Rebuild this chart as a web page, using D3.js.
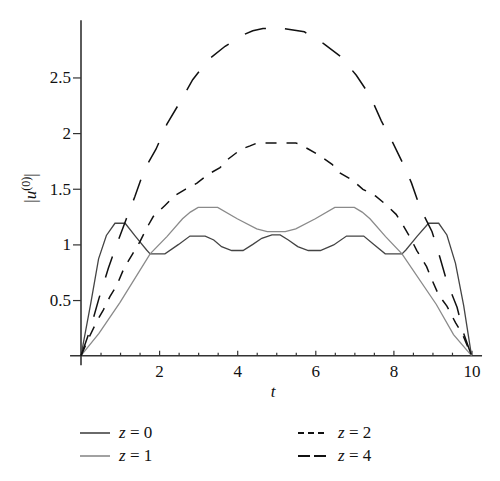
<!doctype html>
<html>
    <head>
        <style>
            body { margin: 0; overflow: hidden; background: #fff; }
        </style>
    </head>
    <body>
        <script src="https://cdn.jsdelivr.net/npm/d3@7"></script>
        <script>
            // values
            const t0 = [0, 0.25, 0.45, 0.65, 0.87, 1.13, 1.4, 1.68, 1.77, 2.15, 2.5, 2.79, 3.18, 3.4, 3.6, 3.86, 4.15, 4.4, 4.63, 4.89, 5.1, 5.31, 5.55, 5.82, 6.13, 6.47, 6.8, 7.0, 7.24, 7.5, 7.79, 8.22, 8.32, 8.6, 8.9, 9.16, 9.37, 9.59, 9.8, 10];
            const z0 = [0, 0.47, 0.87, 1.08, 1.19, 1.19, 1.07, 0.95, 0.915, 0.915, 1.0, 1.075, 1.075, 1.04, 0.98, 0.945, 0.945, 1.0, 1.055, 1.085, 1.085, 1.04, 0.98, 0.945, 0.945, 0.995, 1.075, 1.075, 1.075, 1.0, 0.915, 0.915, 0.95, 1.07, 1.19, 1.19, 1.085, 0.83, 0.45, 0];

            const t1 = [0, 0.46, 1.0, 1.77, 2.2, 2.6, 2.8, 3.0, 3.5, 4.0, 4.5, 4.77, 5.23, 5.5, 6.0, 6.5, 7.0, 7.2, 7.4, 7.8, 8.22, 9.1, 9.54, 10];
            const z1 = [0, 0.2, 0.48, 0.915, 1.07, 1.23, 1.29, 1.333, 1.333, 1.23, 1.14, 1.115, 1.115, 1.14, 1.23, 1.333, 1.333, 1.29, 1.23, 1.07, 0.915, 0.46, 0.19, 0];

            const t2 = [0, 0.2, 0.4, 0.57, 0.74, 0.92, 1.1, 1.33, 1.51, 1.68, 1.85, 2.15, 2.41, 2.67, 2.97, 3.26, 3.56, 3.78, 4.1, 4.33, 4.5, 5.5, 5.57, 5.82, 6.1, 6.43, 6.64, 6.94, 7.22, 7.54, 7.79, 8.07, 8.26, 8.44, 8.6, 8.85, 8.97, 9.16, 9.37, 9.59, 9.76, 10];
            const z2 = [0, 0.16, 0.305, 0.41, 0.53, 0.635, 0.785, 0.92, 1.025, 1.145, 1.25, 1.35, 1.44, 1.495, 1.55, 1.63, 1.69, 1.77, 1.855, 1.885, 1.91, 1.91, 1.905, 1.857, 1.8, 1.72, 1.64, 1.58, 1.495, 1.435, 1.363, 1.27, 1.165, 1.055, 0.945, 0.8, 0.695, 0.545, 0.446, 0.297, 0.2, 0];

            const t4 = [0, 0.23, 0.46, 0.7, 0.91, 1.15, 1.38, 1.62, 1.92, 2.2, 2.52, 2.86, 3.26, 3.69, 4.14, 4.4, 4.66, 5.19, 5.72, 6.23, 6.64, 7.05, 7.41, 7.69, 7.99, 8.28, 8.46, 8.69, 8.99, 9.19, 9.37, 9.63, 9.8, 10];
            const z4 = [0, 0.23, 0.515, 0.785, 0.995, 1.22, 1.43, 1.67, 1.855, 2.08, 2.27, 2.48, 2.66, 2.78, 2.88, 2.92, 2.94, 2.94, 2.91, 2.8, 2.69, 2.52, 2.33, 2.11, 1.91, 1.7, 1.555, 1.325, 1.114, 0.884, 0.665, 0.435, 0.2, 0];

            const xTicks = [2, 4, 6, 8, 10];
            const yTicks = [0.5, 1, 1.5, 2, 2.5];
            const labels = ["0", "1", "2", "4"];

            const series = [
                { name: labels[0], t: t0, v: z0, color: "#444", dash: null, w: 1.3, legDash: null },
                { name: labels[1], t: t1, v: z1, color: "#8a8a8a", dash: null, w: 1.3, legDash: null },
                { name: labels[2], t: t2, v: z2, color: "#111", dash: "11,10", w: 1.5, legDash: "6,4" },
                { name: labels[3], t: t4, v: z4, color: "#111", dash: "22,19", w: 1.5, legDash: "12,4" }
            ];

            const font = "'Liberation Serif', 'DejaVu Serif', serif";
            const fs = 17;
            const ink = "#111";

            const width = 500, height = 481;
            const svg = d3.select("body").append("svg")
                .attr("width", width)
                .attr("height", height)
                .attr("font-family", font);

            const x = d3.scaleLinear().domain([0, 10]).range([81, 471.5]);
            const y = d3.scaleLinear().domain([0, 3]).range([355.7, 21.8]);

            const axisColor = "#333";

            // axis lines, a little past the origin like the original
            svg.append("line")
                .attr("x1", x(-0.28)).attr("x2", x(10.27))
                .attr("y1", y(0)).attr("y2", y(0))
                .attr("stroke", axisColor).attr("stroke-width", 1.6);
            svg.append("line")
                .attr("x1", x(0)).attr("x2", x(0))
                .attr("y1", y(-0.085)).attr("y2", y(3.015))
                .attr("stroke", axisColor).attr("stroke-width", 1.6);

            // x axis
            const minor = d3.range(0.5, 10, 0.5).filter(d => !xTicks.includes(d));
            const xg = svg.append("g").attr("transform", `translate(0,${y(0)})`);
            xg.call(d3.axisBottom(x).tickValues(minor).tickSize(-3).tickFormat(""))
                .call(g => g.select(".domain").remove())
                .call(g => g.selectAll("line").attr("stroke", axisColor).attr("stroke-width", 1.2));
            const xg2 = svg.append("g").attr("transform", `translate(0,${y(0)})`);
            xg2.call(d3.axisBottom(x).tickValues(xTicks).tickSize(-5).tickPadding(10))
                .call(g => g.select(".domain").remove())
                .call(g => g.selectAll("line").attr("stroke", axisColor).attr("stroke-width", 1.2))
                .call(g => g.selectAll("text").attr("font-size", fs).attr("font-family", font)
                    .attr("fill", ink).attr("y", 9).attr("dy", "0.71em"));

            // y axis
            const yg = svg.append("g").attr("transform", `translate(${x(0)},0)`);
            yg.call(d3.axisLeft(y).tickValues(yTicks).tickSize(8).tickPadding(2).tickFormat(d3.format("")))
                .call(g => g.select(".domain").remove())
                .call(g => g.selectAll("line").attr("stroke", axisColor).attr("stroke-width", 1.2))
                .call(g => g.selectAll("text").attr("font-size", fs).attr("font-family", font).attr("fill", ink));

            // axis titles
            svg.append("text")
                .attr("x", 273).attr("y", 397)
                .attr("text-anchor", "middle")
                .attr("font-size", fs).attr("font-style", "italic").attr("fill", ink)
                .text("t");

            const yt = svg.append("text")
                .attr("transform", "translate(36,188) rotate(-90)")
                .attr("text-anchor", "middle")
                .attr("font-size", fs).attr("fill", ink);
            yt.append("tspan").text("|");
            yt.append("tspan").attr("font-style", "italic").text("u");
            yt.append("tspan").attr("font-size", 12).attr("dy", -6).text("(0)");
            yt.append("tspan").attr("dy", 6).text("|");

            // curves
            const line = d3.line().x(d => x(d[0])).y(d => y(d[1]));
            svg.append("g").selectAll("path")
                .data(series)
                .join("path")
                .attr("d", s => line(s.t.map((t, i) => [t, s.v[i]])))
                .attr("fill", "none")
                .attr("stroke", s => s.color)
                .attr("stroke-width", s => s.w)
                .attr("stroke-dasharray", s => s.dash);

            // legend
            const legPos = [[80, 433], [80, 456], [298, 433], [298, 456]];
            const leg = svg.append("g").selectAll("g")
                .data(series)
                .join("g")
                .attr("transform", (s, i) => `translate(${legPos[i][0]},${legPos[i][1]})`);
            leg.append("line")
                .attr("x1", 0).attr("x2", 30)
                .attr("stroke", s => s.color)
                .attr("stroke-width", s => s.w + 0.3)
                .attr("stroke-dasharray", s => s.legDash);
            const lt = leg.append("text")
                .attr("x", (s, i) => i < 2 ? 39 : 40)
                .attr("y", 5)
                .attr("font-size", fs).attr("fill", ink);
            lt.append("tspan").attr("font-style", "italic").text("z");
            lt.append("tspan").text(s => " = " + s.name);
        </script>
    </body>
</html>
